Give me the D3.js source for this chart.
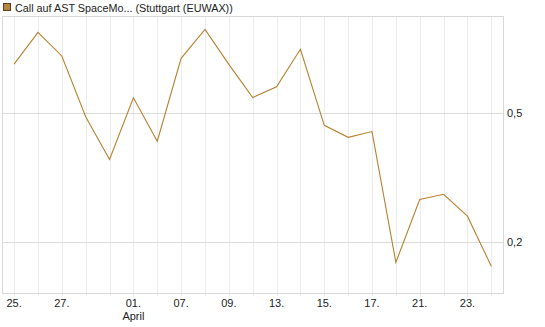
<!DOCTYPE html>
<html><head><meta charset="utf-8">
<script src="https://cdn.jsdelivr.net/npm/d3@7"></script>
<style>body{margin:0;background:#fff}svg{display:block;font-family:"Liberation Sans",Arial,sans-serif}</style>
</head><body><svg id="c" width="545" height="327"></svg>
<script>
const seriesName = "Call auf AST SpaceMo... (Stuttgart (EUWAX))";
const values = [0.615,0.689,0.634,0.492,0.3925,0.5365,0.435,0.6285,0.696,0.6145,0.537,0.562,0.6495,0.472,0.444,0.4575,0.152,0.299,0.311,0.26,0.143];
const xTickIdx = [0,2,5,7,9,11,13,15,17,19];
const xTickLabels = ["25.","27.","01.","07.","09.","13.","15.","17.","21.","23."];
const monthLabelIdx = [5];
const monthLabels = ["April"];
const yTicks = [0.5,0.2];
const yTickLabels = ["0,5","0,2"];

const svg = d3.select("#c");
const L=2.5,R=503.5,T=16,B=293.5;
const x = d3.scaleLinear().domain([0,values.length-1]).range([14.1,491.3]);
const y = d3.scaleLinear().domain([0.0794,0.7273]).range([B,T]);

svg.append("g").selectAll("line").data(d3.range(values.length)).join("line")
  .attr("x1",i=>Math.round(x(i))+0.5).attr("x2",i=>Math.round(x(i))+0.5)
  .attr("y1",T).attr("y2",B+3).attr("stroke","#ececec").attr("stroke-width",1);
svg.append("g").selectAll("line").data(yTicks).join("line")
  .attr("x1",L).attr("x2",R).attr("y1",d=>Math.round(y(d))+0.5).attr("y2",d=>Math.round(y(d))+0.5)
  .attr("stroke","#dcdcdc");
svg.append("rect").attr("x",L).attr("y",T+0.5).attr("width",R-L).attr("height",B-T-0.5)
  .attr("fill","none").attr("stroke","#d8d8d8");

svg.append("path").datum(values)
  .attr("d",d3.line().x((d,i)=>x(i)).y(d=>y(d)))
  .attr("fill","none").attr("stroke","#b5822f").attr("stroke-width",1.1);

svg.append("g").selectAll("text").data(xTickIdx).join("text")
  .attr("x",i=>x(i)).attr("y",307).attr("text-anchor","middle")
  .attr("font-size",11).attr("fill","#222").text((d,k)=>xTickLabels[k]);
svg.append("g").selectAll("text").data(monthLabelIdx).join("text")
  .attr("x",i=>x(i)).attr("y",320).attr("text-anchor","middle")
  .attr("font-size",11).attr("fill","#222").text((d,k)=>monthLabels[k]);
svg.append("g").selectAll("text").data(yTicks).join("text")
  .attr("x",507).attr("y",d=>y(d)+4).attr("font-size",11).attr("fill","#222")
  .text((d,k)=>yTickLabels[k]);

svg.append("rect").attr("x",3.5).attr("y",3.5).attr("width",7).attr("height",7)
  .attr("fill","#b5843f").attr("stroke","#5a4020");
const title = svg.append("text").attr("x",15).attr("y",11.5).attr("font-size",11).attr("fill","#222").text(seriesName);
const w = title.node().getComputedTextLength();
if (w > 0) title.attr("font-size", Math.min(11, 11*218/w));
</script></body></html>
